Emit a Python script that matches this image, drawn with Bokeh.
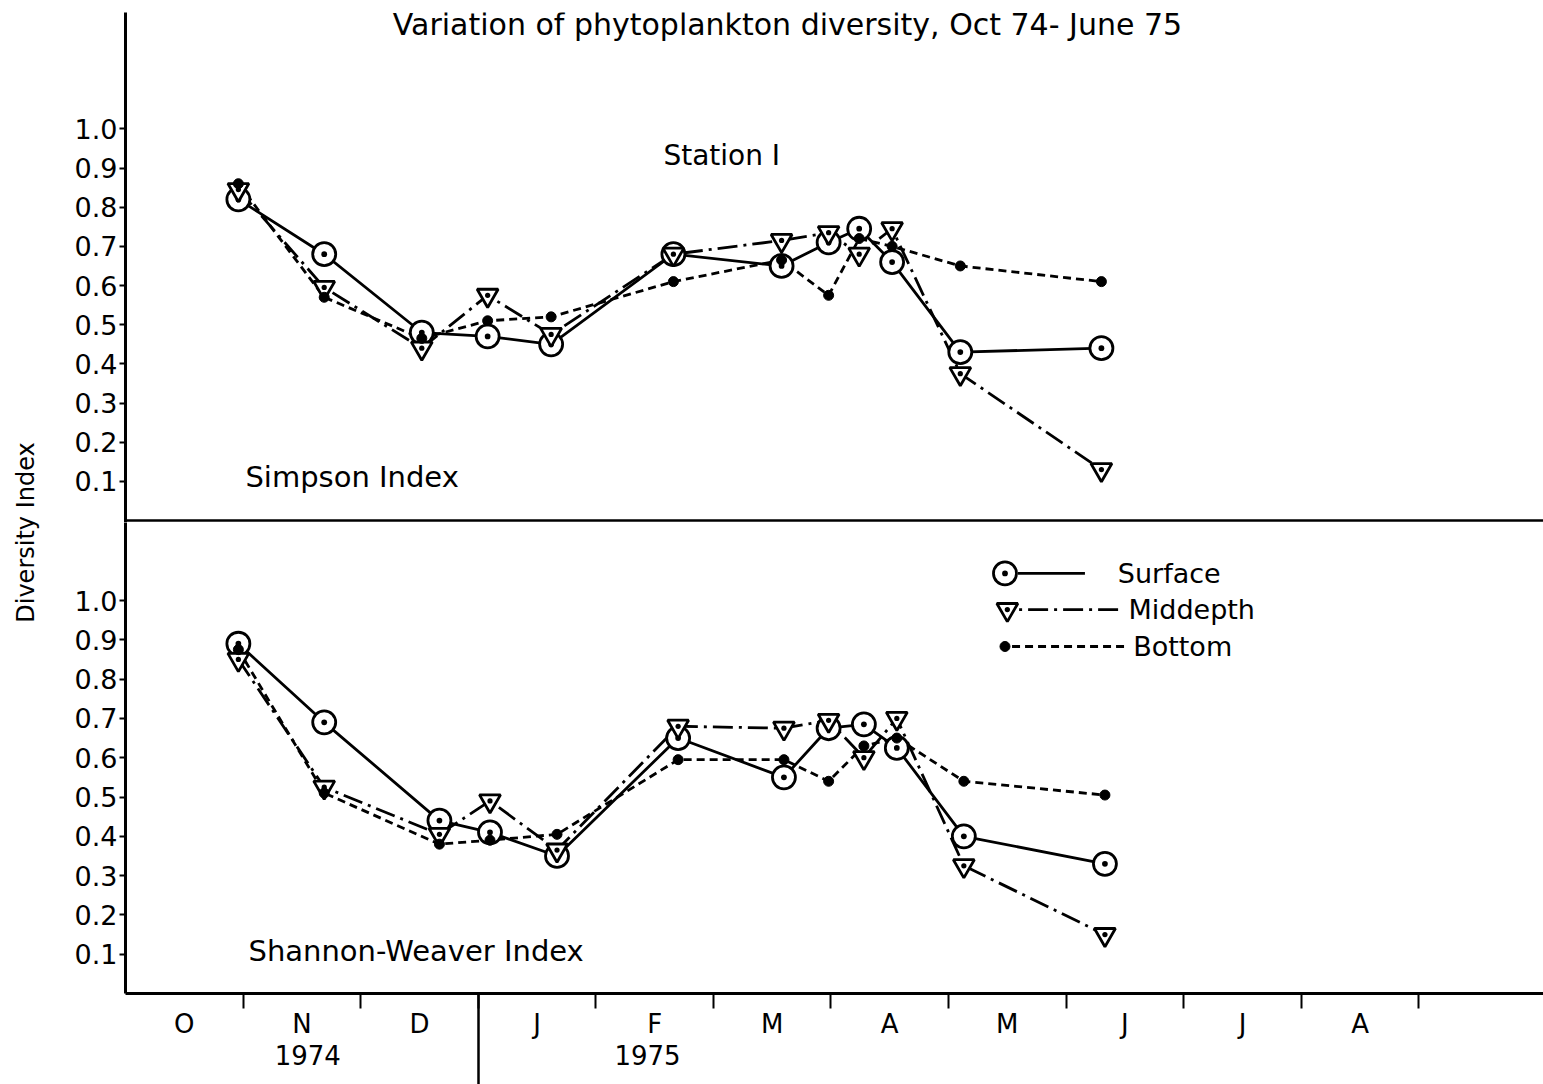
import numpy as np
from bokeh.plotting import figure
from bokeh.models import Range1d, LinearAxis, FixedTicker, PrintfTickFormatter, Span, Label
from bokeh.layouts import row, column
from bokeh.embed import file_html
from bokeh.resources import INLINE

FONT = "DejaVu Sans"

# ---------------- data (x in months after 1 Oct 1974) ----------------
month_labels = ["O", "N", "D", "J", "F", "M", "A", "M", "J", "J", "A"]
year_labels = ["1974", "1975"]
year_label_pos = [1.55, 4.44]
year_boundary = [3]
y_tick_values = [0.1, 0.2, 0.3, 0.4, 0.5, 0.6, 0.7, 0.8, 0.9, 1.0]

simpson_x = [0.96, 1.69, 2.52, 3.08, 3.62, 4.66, 5.58, 5.98, 6.24, 6.52, 7.10, 8.30]
simpson_surface = [0.82, 0.68, 0.48, 0.47, 0.45, 0.68, 0.65, 0.71, 0.745, 0.66, 0.43, 0.44]
simpson_middepth = [0.845, 0.595, 0.44, 0.575, 0.475, 0.68, 0.715, 0.735, 0.68, 0.745, 0.375, 0.13]
simpson_bottom = [0.86, 0.57, 0.465, 0.51, 0.52, 0.61, 0.665, 0.575, 0.72, 0.70, 0.65, 0.61]

shannon_x = [0.96, 1.69, 2.67, 3.10, 3.67, 4.70, 5.60, 5.98, 6.28, 6.56, 7.13, 8.33]
shannon_surface = [0.89, 0.69, 0.44, 0.41, 0.35, 0.65, 0.55, 0.675, 0.685, 0.625, 0.40, 0.33]
shannon_middepth = [0.85, 0.525, 0.405, 0.49, 0.365, 0.68, 0.675, 0.695, 0.60, 0.70, 0.325, 0.15]
shannon_bottom = [0.875, 0.51, 0.38, 0.39, 0.405, 0.595, 0.595, 0.54, 0.63, 0.65, 0.54, 0.505]

# ---------------- styles ----------------
LW = 2.8
SURF = dict(marker="circle_dot", size=23, angle=0.0)
MID = dict(marker="triangle_dot", size=21, angle=np.pi)
BOT = dict(marker="circle", size=10, angle=0.0)
DASH_SURF = "solid"
DASH_MID = "20 6 3 6"
DASH_BOT = "8 5"

x_range = Range1d(0, 12.06)


def style_fig(p):
    p.xgrid.visible = False
    p.ygrid.visible = False
    p.outline_line_color = None
    p.background_fill_color = "white"
    p.border_fill_color = "white"


def style_yaxis(ax):
    ax.ticker = FixedTicker(ticks=y_tick_values, minor_ticks=[])
    ax.formatter = PrintfTickFormatter(format="%.1f")
    ax.axis_line_width = 3
    ax.axis_line_color = "black"
    ax.major_tick_line_width = 2
    ax.major_tick_out = 6
    ax.major_tick_in = 0
    ax.minor_tick_line_color = None
    ax.major_label_standoff = 2
    ax.major_label_text_font = FONT
    ax.major_label_text_font_size = "27px"
    ax.major_label_text_color = "black"


def draw_panel(p, x, surf, mid, bot):
    p.line(x, surf, line_color="black", line_width=LW, line_dash=DASH_SURF)
    p.line(x, mid, line_color="black", line_width=LW, line_dash=DASH_MID)
    p.line(x, bot, line_color="black", line_width=LW, line_dash=DASH_BOT)
    p.scatter(x, surf, marker=SURF["marker"], size=SURF["size"], fill_color="white",
              line_color="black", line_width=LW)
    p.scatter(x, mid, marker=MID["marker"], size=MID["size"], angle=MID["angle"],
              fill_color="white", line_color="black", line_width=LW)
    p.scatter(x, bot, marker=BOT["marker"], size=BOT["size"], fill_color="black",
              line_color="black", line_width=1)


def add_text(p, x, y, text, size, align="left"):
    p.add_layout(Label(x=x, y=y, text=text, text_font=FONT, text_font_size=size,
                       text_align=align, text_baseline="middle", text_color="black"))


# ---------------- top panel: Simpson ----------------
p1 = figure(width=1495, height=522, x_range=x_range, y_range=Range1d(-0.0051, 1.2972),
            x_axis_location=None, y_axis_location="left",
            toolbar_location=None, output_backend="svg",
            min_border_left=77, min_border_right=0, min_border_top=12, min_border_bottom=0)
style_fig(p1)
style_yaxis(p1.yaxis[0])
p1.add_layout(Span(location=0, dimension="width", line_color="black", line_width=2.5))
draw_panel(p1, simpson_x, simpson_surface, simpson_middepth, simpson_bottom)
add_text(p1, 5.63, 1.267, "Variation of phytoplankton diversity, Oct 74- June 75", "30px", "center")
add_text(p1, 4.575, 0.932, "Station I", "28px")
add_text(p1, 1.02, 0.11, "Simpson Index", "29px")

# ---------------- bottom panel: Shannon-Weaver ----------------
p2 = figure(width=1495, height=562, x_range=x_range, y_range=Range1d(0, 1.1985),
            x_axis_location="below", y_axis_location="left",
            toolbar_location=None, output_backend="svg",
            min_border_left=77, min_border_right=0, min_border_top=0, min_border_bottom=91)
style_fig(p2)
style_yaxis(p2.yaxis[0])

xa = p2.xaxis[0]
centers = [k + 0.5 for k in range(len(month_labels))]
xa.ticker = FixedTicker(ticks=centers, minor_ticks=list(range(1, 12)))
xa.major_label_overrides = {c: m for c, m in zip(centers, month_labels)}
xa.axis_line_width = 3
xa.axis_line_color = "black"
xa.major_tick_line_color = None
xa.major_tick_out = 0
xa.major_tick_in = 0
xa.minor_tick_line_color = "black"
xa.minor_tick_line_width = 2
xa.minor_tick_out = 15
xa.minor_tick_in = 0
xa.major_label_standoff = 0
xa.major_label_text_font = FONT
xa.major_label_text_font_size = "26px"
xa.major_label_text_color = "black"

# year labels
ya = LinearAxis(ticker=FixedTicker(ticks=year_label_pos, minor_ticks=[]))
ya.major_label_overrides = {v: t for v, t in zip(year_label_pos, year_labels)}
ya.axis_line_color = None
ya.major_tick_line_color = None
ya.minor_tick_line_color = None
ya.major_tick_out = 0
ya.major_tick_in = 0
ya.minor_tick_out = 0
ya.minor_tick_in = 0
ya.major_label_standoff = 3
ya.major_label_text_font = FONT
ya.major_label_text_font_size = "26px"
ya.major_label_text_color = "black"
p2.add_layout(ya, "below")

# long separator between the years (drawn as a tick reaching up to the axis line)
yb = LinearAxis(ticker=FixedTicker(ticks=[], minor_ticks=year_boundary))
yb.axis_line_color = None
yb.major_tick_line_color = None
yb.major_label_text_font_size = "0px"
yb.major_label_standoff = 0
yb.minor_tick_line_color = "black"
yb.minor_tick_line_width = 2.5
yb.minor_tick_in = 75
yb.minor_tick_out = 17
p2.add_layout(yb, "below")

draw_panel(p2, shannon_x, shannon_surface, shannon_middepth, shannon_bottom)
add_text(p2, 1.046, 0.109, "Shannon-Weaver Index", "29px")

# legend (drawn by hand, like the original key)
p2.segment(x0=[7.59], y0=[1.069], x1=[8.16], y1=[1.069], line_color="black", line_width=LW)
p2.scatter([7.48], [1.069], marker=SURF["marker"], size=SURF["size"], fill_color="white",
           line_color="black", line_width=LW)
add_text(p2, 8.44, 1.069, "Surface", "27px")
p2.segment(x0=[7.60], y0=[0.977], x1=[8.49], y1=[0.977], line_color="black", line_width=LW,
           line_dash="3 6 20 6")
p2.scatter([7.50], [0.977], marker=MID["marker"], size=MID["size"], angle=MID["angle"],
           fill_color="white", line_color="black", line_width=LW)
add_text(p2, 8.53, 0.977, "Middepth", "27px")
p2.segment(x0=[7.54], y0=[0.883], x1=[8.50], y1=[0.883], line_color="black", line_width=LW,
           line_dash=DASH_BOT)
p2.scatter([7.48], [0.883], marker=BOT["marker"], size=BOT["size"], fill_color="black",
           line_color="black", line_width=1)
add_text(p2, 8.57, 0.883, "Bottom", "27px")

# ---------------- shared y-axis title ----------------
H = 522 + 562
pl = figure(width=48, height=H, x_range=Range1d(0, 48), y_range=Range1d(0, H),
            x_axis_location=None, y_axis_location=None,
            toolbar_location=None, output_backend="svg",
            min_border_left=0, min_border_right=0, min_border_top=0, min_border_bottom=0)
style_fig(pl)
pl.add_layout(Label(x=25, y=H - 532, text="Diversity Index", angle=np.pi / 2,
                    text_font=FONT, text_font_size="24px", text_align="center",
                    text_baseline="middle", text_color="black"))

layout = row(pl, column(p1, p2, spacing=0), spacing=0)

open("out.html", "w").write(file_html(layout, INLINE))
